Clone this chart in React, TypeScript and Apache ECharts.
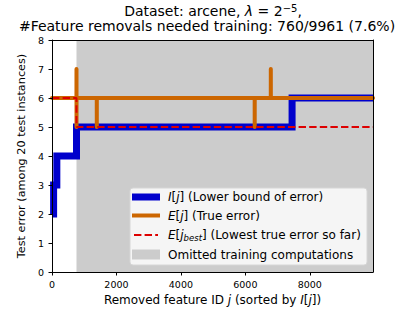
import React, { useEffect, useRef } from 'react';
import * as echarts from 'echarts';

const xTicks = [0, 2000, 4000, 6000, 8000];
const yTicks = [0, 1, 2, 3, 4, 5, 6, 7, 8];
const nFeatures = 9961;
const omittedStart = 760;
const lowerBound = [[0, 2], [50, 3], [150, 4], [760, 5], [7450, 6], [9961, 6]];
const trueError = [
  [0, 6], [759, 6], [760, 7], [761, 5], [762, 6],
  [1389, 6], [1390, 5], [1391, 6],
  [6289, 6], [6290, 5], [6291, 6],
  [6789, 6], [6790, 7], [6791, 6], [9961, 6],
];
const bestError = [[0, 6], [760, 5], [9961, 5]];

const FONT = 'DejaVu Sans';
const BLUE = '#0000cc';
const ORANGE = '#cc6600';
const RED = '#dd0000';
const GRAY = '#cccccc';

export default function App() {
  const ref = useRef<HTMLDivElement>(null);
  useEffect(() => {
    const chart = echarts.init(ref.current!, null, { renderer: 'svg' });
    const LF = 12;
    const legendRich = {
      n: { fontFamily: FONT, fontSize: LF, color: '#000', lineHeight: 15, verticalAlign: 'middle' },
      i: { fontFamily: FONT, fontSize: LF, fontStyle: 'italic', color: '#000', lineHeight: 15, verticalAlign: 'middle' },
      s: { fontFamily: FONT, fontSize: 8.5, fontStyle: 'italic', color: '#000', verticalAlign: 'bottom', lineHeight: 10 },
    };
    const xl = { fontFamily: FONT, fontSize: 12, color: '#000' };
    const legendX = 168;
    chart.setOption({
      animation: false,
      title: [
        {
          text: '{n|Dataset: arcene, }{i|λ}{n| = 2}{s|−5}{n|,}',
          left: 213, top: 3, textAlign: 'center', padding: 0,
          textStyle: {
            fontWeight: 'normal',
            rich: {
              n: { fontFamily: FONT, fontSize: 14, fontWeight: 'normal', color: '#000', lineHeight: 15, verticalAlign: 'middle' },
              i: { fontFamily: FONT, fontSize: 14, fontWeight: 'normal', fontStyle: 'italic', color: '#000', lineHeight: 15, verticalAlign: 'middle' },
              s: { fontFamily: FONT, fontSize: 10, fontWeight: 'normal', color: '#000', lineHeight: 11, verticalAlign: 'top' },
            },
          },
        },
        {
          text: '#Feature removals needed training: 760/9961 (7.6%)',
          left: 207, top: 18.5, textAlign: 'center', padding: 0,
          textStyle: { fontFamily: FONT, fontSize: 14, fontWeight: 'normal', color: '#000', lineHeight: 14 },
        },
      ],
      grid: { left: 52, top: 40, right: 42, bottom: 39, show: false },
      xAxis: [
        {
          type: 'value', min: 0, max: nFeatures, interval: 2000, z: 10,
          name: '{n|Removed feature ID }{i|j}{n| (sorted by }{i|I}{n|[}{i|j}{n|])}',
          nameLocation: 'middle', nameGap: 21,
          nameTextStyle: { ...xl, rich: { n: xl, i: { ...xl, fontStyle: 'italic' } } },
          axisLine: { show: true, lineStyle: { color: '#000', width: 1 } },
          axisTick: { show: true, inside: false, length: 3.5, customValues: xTicks, lineStyle: { color: '#000' } },
          axisLabel: {
            customValues: xTicks, fontFamily: FONT, fontSize: 9.5, color: '#000', margin: 7,
            formatter: (v: number) => String(v),
          },
          splitLine: { show: false },
        },
        {
          type: 'value', position: 'top', min: 0, max: nFeatures, z: 10,
          axisLine: { show: true, onZero: false, lineStyle: { color: '#000', width: 1 } },
          axisTick: { show: false }, axisLabel: { show: false }, splitLine: { show: false },
        },
      ],
      yAxis: [
        {
          type: 'value', min: 0, max: 8, interval: 1, z: 10,
          name: 'Test error (among 20 test instances)',
          nameLocation: 'middle', nameGap: 19,
          nameTextStyle: { fontFamily: FONT, fontSize: 11.25, color: '#000' },
          axisLine: { show: true, lineStyle: { color: '#000', width: 1 } },
          axisTick: { show: true, inside: false, length: 3.5, customValues: yTicks, lineStyle: { color: '#000' } },
          axisLabel: { customValues: yTicks, fontFamily: FONT, fontSize: 9.5, color: '#000', margin: 8 },
          splitLine: { show: false },
        },
        {
          type: 'value', position: 'right', min: 0, max: 8, z: 10,
          axisLine: { show: true, onZero: false, lineStyle: { color: '#000', width: 1 } },
          axisTick: { show: false }, axisLabel: { show: false }, splitLine: { show: false },
        },
      ],
      series: [
        {
          name: 'Omitted training computations', type: 'line', data: [], z: 1, silent: true,
          markArea: {
            silent: true,
            itemStyle: { color: GRAY },
            data: [[{ xAxis: omittedStart }, { xAxis: nFeatures }]],
          },
        },
        {
          name: 'I[j] (Lower bound of error)', type: 'line', step: 'end', data: lowerBound, z: 3,
          symbol: 'none', lineStyle: { color: BLUE, width: 7, join: 'miter', cap: 'butt' },
        },
        {
          name: 'E[j] (True error)', type: 'line', data: trueError, z: 4,
          symbol: 'none', lineStyle: { color: ORANGE, width: 4, join: 'round', cap: 'round' },
        },
        {
          name: 'E[j_best] (Lowest true error so far)', type: 'line', step: 'end', data: bestError, z: 5,
          symbol: 'none', lineStyle: { color: RED, width: 2, type: [7.4, 3.2] },
        },
      ],
      graphic: [
        {
          type: 'rect', z: 100, shape: { x: 130, y: 188, width: 237, height: 77, r: 3 },
          style: { fill: 'rgba(255,255,255,0.8)', stroke: '#d6d6d6', lineWidth: 1 },
        },
        { type: 'line', z: 101, shape: { x1: 132, y1: 197, x2: 160, y2: 197 }, style: { stroke: BLUE, lineWidth: 7 } },
        { type: 'line', z: 101, shape: { x1: 132, y1: 215.5, x2: 160, y2: 215.5 }, style: { stroke: ORANGE, lineWidth: 4 } },
        { type: 'line', z: 101, shape: { x1: 134, y1: 235, x2: 158, y2: 235 }, style: { stroke: RED, lineWidth: 2, lineDash: [7.4, 3.2] } },
        { type: 'rect', z: 101, shape: { x: 132, y: 249.5, width: 28, height: 10 }, style: { fill: GRAY } },
        {
          type: 'text', z: 101, x: legendX, y: 197,
          style: { text: '{i|I}{n|[}{i|j}{n|] (Lower bound of error)}', verticalAlign: 'middle', rich: legendRich },
        },
        {
          type: 'text', z: 101, x: legendX, y: 216,
          style: { text: '{i|E}{n|[}{i|j}{n|] (True error)}', verticalAlign: 'middle', rich: legendRich },
        },
        {
          type: 'text', z: 101, x: legendX, y: 235,
          style: { text: '{i|E}{n|[}{i|j}{s|best}{n|] (Lowest true error so far)}', verticalAlign: 'middle', rich: legendRich },
        },
        {
          type: 'text', z: 101, x: legendX, y: 254.5,
          style: { text: '{n|Omitted training computations}', verticalAlign: 'middle', rich: legendRich },
        },
      ],
    });
    return () => chart.dispose();
  }, []);
  return <div ref={ref} style={{ width: 415, height: 311, position: 'absolute', left: 0, top: 0 }} />;
}
